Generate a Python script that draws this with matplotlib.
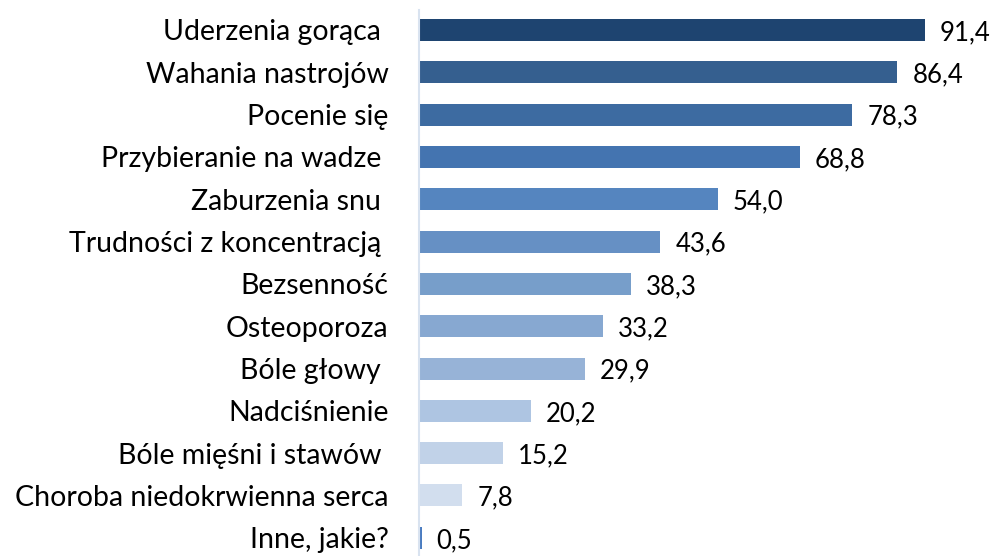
import matplotlib
matplotlib.use("Agg")
import matplotlib.pyplot as plt

plt.rcParams['font.family'] = ['Lato', 'DejaVu Sans']

categories = ['Uderzenia gorąca ', 'Wahania nastrojów', 'Pocenie się',
              'Przybieranie na wadze ', 'Zaburzenia snu ',
              'Trudności z koncentracją ', 'Bezsenność', 'Osteoporoza',
              'Bóle głowy ', 'Nadciśnienie', 'Bóle mięśni i stawów ',
              'Choroba niedokrwienna serca', 'Inne, jakie?']
values = [91.4, 86.4, 78.3, 68.8, 54.0, 43.6, 38.3, 33.2, 29.9, 20.2, 15.2, 7.8, 0.5]
colors = ['#1E4470', '#355F8F', '#3D6BA1', '#4474B0', '#5585BF', '#6690C4',
          '#779ECA', '#87A8D1', '#97B3D7', '#AEC5E2', '#C1D2E8', '#D2DEEE',
          '#4A7CC0']

fig = plt.figure(figsize=(9.98, 5.56), dpi=100)
ax = fig.add_axes([419 / 998, 0, 1 - 419 / 998, 546 / 556])

pos = list(range(len(values)))
ax.barh(pos, values, height=0.52, color=colors)
ax.set_xlim(0, 579 / 5.536)
ax.set_ylim(12.43, -0.472)

for p, v in zip(pos, values):
    ax.text(v + 2.7, p + 0.06, f'{v:.1f}'.replace('.', ','), va='center',
            ha='left', fontsize=18.5, color='black')

ax.set_yticks(pos)
ax.set_yticklabels(categories, fontsize=20.5)
ax.tick_params(axis='y', length=0, pad=22)
ax.set_xticks([])
for s in ['top', 'right', 'bottom']:
    ax.spines[s].set_visible(False)
ax.spines['left'].set_color('#D9E3F0')
ax.spines['left'].set_linewidth(1.5)

fig.savefig('out.png', dpi=100)
